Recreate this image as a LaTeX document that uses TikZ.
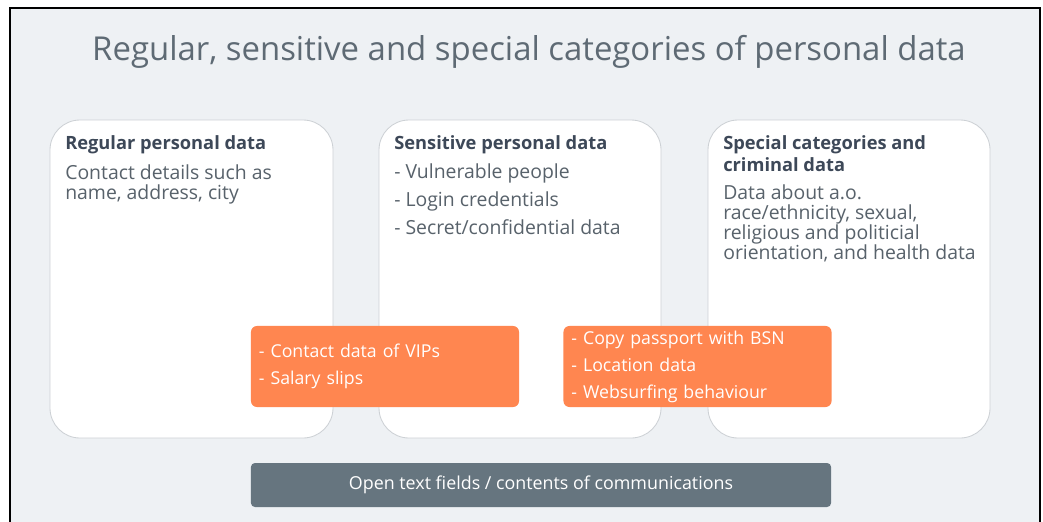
\documentclass[tikz,border=0pt]{standalone}
\usepackage{fontspec}
\setmainfont{Open Sans}

\definecolor{panel}{HTML}{EEF1F4}
\definecolor{titletext}{HTML}{5E6A74}
\definecolor{headtext}{HTML}{3D4858}
\definecolor{bodytext}{HTML}{58626B}
\definecolor{boxline}{HTML}{CDD1D5}
\definecolor{hot}{HTML}{FF8650}
\definecolor{bar}{HTML}{66757F}

\begin{document}
\begin{tikzpicture}
  [x=0.025cm,y=-0.025cm,
   catbox/.style={draw=boxline,fill=white,line width=0.6pt,rounded corners=0.75cm},
   cathead/.style={anchor=base west,inner sep=0,align=left,text=headtext,
     font=\fontsize{13}{15.6}\selectfont\bfseries},
   catbody/.style={anchor=base west,inner sep=0,align=left,text=bodytext,
     font=\fontsize{13.8}{14.2}\selectfont},
   hotbox/.style={fill=hot,rounded corners=0.15cm,minimum width=6.7cm,
     minimum height=2.025cm,inner xsep=0.2cm,inner ysep=0,text width=6.3cm,
     align=left,text=white,font=\fontsize{12.6}{19.2}\selectfont},
   barbox/.style={fill=bar,rounded corners=0.1cm,minimum width=14.5cm,
     minimum height=1.1cm,text=white,font=\fontsize{12.7}{14}\selectfont}]
  \useasboundingbox (0,0) rectangle (1043,521);
  \clip (0,0) rectangle (1043,521);

  \draw[line width=1.4pt,fill=panel] (10,8) rectangle (1040,540);
  \node[text=titletext,font=\fontsize{23.4}{28}\selectfont] (heading) at (529,52)
    {Regular, sensitive and special categories of personal data};

  % the three categories
  \draw[catbox] (50,120) rectangle (333,438);
  \draw[catbox] (379,120) rectangle (661,438);
  \draw[catbox] (708,120) rectangle (990,438);

  % multi-line nodes sit on their last line
  \node[cathead] (regular) at (65,149) {Regular personal data};
  \node[catbody] (regular-txt) at (65,199) {Contact details such as\\name, address, city};

  \node[cathead] (sensitive) at (394,149) {Sensitive personal data};
  \node[catbody,font=\fontsize{13.8}{19.7}\selectfont] (sensitive-txt) at (394,234)
    {- Vulnerable people\\- Login credentials\\- Secret/confidential data};

  \node[cathead] (special) at (723,171) {Special categories and\\criminal data};
  \node[catbody] (special-txt) at (723,259)
    {Data about a.o.\\race/ethnicity, sexual,\\religious and politicial\\orientation, and health data};

  % overlaps
  \node[hotbox] (vip) at (385,366.5) {- Contact data of VIPs\\- Salary slips};
  \node[hotbox] (bsn) at (697.5,366.5)
    {- Copy passport with BSN\\- Location data\\- Websurfing behaviour};

  \node[barbox] (open) at (541,485) {Open text fields / contents of communications};
\end{tikzpicture}
\end{document}
